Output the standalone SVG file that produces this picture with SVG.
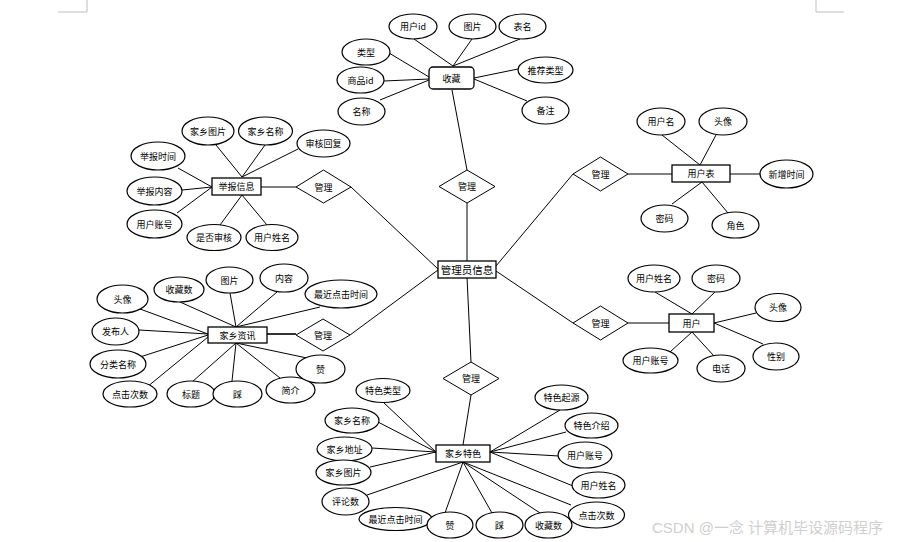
<svg xmlns="http://www.w3.org/2000/svg" width="922" height="542" viewBox="0 0 922 542">
<style>
.bg{fill:#fff}
.e{fill:#fff;stroke:#000;stroke-width:1.2}
.r{fill:#fff;stroke:#000;stroke-width:1.3}
.d{fill:#fff;stroke:#000;stroke-width:1}
.l{stroke:#000;stroke-width:1;fill:none}
.t{font-family:"Noto Sans CJK SC","Liberation Sans",sans-serif;font-size:9px;fill:#000;text-anchor:middle;dominant-baseline:central}
.tm{font-family:"Noto Sans CJK SC","Liberation Sans",sans-serif;font-size:10.5px;fill:#000;text-anchor:middle;dominant-baseline:central}
.c{stroke:#bdbdbd;stroke-width:1;fill:none}
.w{font-family:"Liberation Sans","Noto Sans CJK SC",sans-serif;font-size:15px;fill:#cfcfcf}
</style>
<rect class="bg" x="0" y="0" width="922" height="542"/>
<path class="c" d="M58 12H87V0M844 12H816V0"/>
<g id="connectors">
<line class="l" x1="452" y1="90" x2="467" y2="170"/>
<line class="l" x1="467" y1="203" x2="467" y2="261"/>
<line class="l" x1="467" y1="277" x2="471" y2="362"/>
<line class="l" x1="471" y1="395" x2="463" y2="445"/>
<line class="l" x1="351" y1="187" x2="438" y2="269"/>
<line class="l" x1="350" y1="335" x2="438" y2="270"/>
<line class="l" x1="573" y1="174" x2="496" y2="266"/>
<line class="l" x1="573" y1="323" x2="496" y2="271"/>
<line class="l" x1="414" y1="39" x2="453" y2="66"/>
<line class="l" x1="472" y1="39" x2="453" y2="66"/>
<line class="l" x1="520" y1="39" x2="453" y2="66"/>
<line class="l" x1="389" y1="53" x2="429" y2="77"/>
<line class="l" x1="384" y1="81" x2="429" y2="79"/>
<line class="l" x1="380" y1="100" x2="429" y2="80"/>
<line class="l" x1="474" y1="78" x2="518" y2="69"/>
<line class="l" x1="474" y1="79" x2="527" y2="101"/>
<line class="l" x1="216" y1="145" x2="242" y2="177"/>
<line class="l" x1="265" y1="145" x2="242" y2="177"/>
<line class="l" x1="298" y1="149" x2="242" y2="177"/>
<line class="l" x1="178" y1="168" x2="212" y2="187"/>
<line class="l" x1="182" y1="190" x2="212" y2="187"/>
<line class="l" x1="177" y1="213" x2="212" y2="187"/>
<line class="l" x1="242" y1="195" x2="220" y2="225"/>
<line class="l" x1="242" y1="195" x2="267" y2="225"/>
<line class="l" x1="261" y1="187" x2="296" y2="187"/>
<line class="l" x1="628" y1="174" x2="672" y2="174"/>
<line class="l" x1="730" y1="174" x2="760" y2="174"/>
<line class="l" x1="662" y1="135" x2="700" y2="165"/>
<line class="l" x1="716" y1="135" x2="700" y2="165"/>
<line class="l" x1="702" y1="182" x2="672" y2="204"/>
<line class="l" x1="702" y1="182" x2="728" y2="213"/>
<line class="l" x1="267" y1="334" x2="296" y2="334" style="stroke-width:1.6"/>
<line class="l" x1="236" y1="327" x2="180" y2="302"/>
<line class="l" x1="236" y1="327" x2="230" y2="293"/>
<line class="l" x1="236" y1="327" x2="277" y2="292"/>
<line class="l" x1="236" y1="327" x2="320" y2="307"/>
<line class="l" x1="140" y1="309" x2="208" y2="334"/>
<line class="l" x1="139" y1="330" x2="208" y2="334"/>
<line class="l" x1="140" y1="357" x2="208" y2="335"/>
<line class="l" x1="147" y1="387" x2="208" y2="337"/>
<line class="l" x1="236" y1="343" x2="192" y2="382"/>
<line class="l" x1="236" y1="343" x2="232" y2="381"/>
<line class="l" x1="236" y1="343" x2="280" y2="378"/>
<line class="l" x1="236" y1="343" x2="307" y2="358"/>
<line class="l" x1="628" y1="323" x2="669" y2="323"/>
<line class="l" x1="655" y1="292" x2="692" y2="314"/>
<line class="l" x1="715" y1="292" x2="692" y2="314"/>
<line class="l" x1="714" y1="323" x2="756" y2="313"/>
<line class="l" x1="714" y1="323" x2="763" y2="344"/>
<line class="l" x1="692" y1="332" x2="670" y2="352"/>
<line class="l" x1="692" y1="332" x2="714" y2="356"/>
<line class="l" x1="436" y1="452" x2="383" y2="402"/>
<line class="l" x1="436" y1="452" x2="378" y2="422"/>
<line class="l" x1="436" y1="452" x2="372" y2="448"/>
<line class="l" x1="436" y1="452" x2="370" y2="467"/>
<line class="l" x1="463" y1="462" x2="367" y2="495"/>
<line class="l" x1="463" y1="462" x2="445" y2="513"/>
<line class="l" x1="463" y1="462" x2="492" y2="513"/>
<line class="l" x1="463" y1="462" x2="540" y2="513"/>
<line class="l" x1="463" y1="462" x2="571" y2="505"/>
<line class="l" x1="490" y1="452" x2="560" y2="410"/>
<line class="l" x1="490" y1="452" x2="566" y2="432"/>
<line class="l" x1="490" y1="452" x2="559" y2="456"/>
<line class="l" x1="490" y1="452" x2="573" y2="486"/>
</g>
<g id="admin"><rect class="r" x="438" y="261" width="58" height="17"/><text class="tm" x="467" y="269.5">管理员信息</text></g>
<g id="rel-top"><polygon class="d" points="467,170 495,186.5 467,203 439,186.5"/><text class="t" x="467" y="186.5">管理</text></g>
<g id="rel-bottom"><polygon class="d" points="471,362 499,378.5 471,395 443,378.5"/><text class="t" x="471" y="378.5">管理</text></g>
<g id="rel-report"><polygon class="d" points="323.5,170 351,187 323.5,203 296,187"/><text class="t" x="323.5" y="187">管理</text></g>
<g id="rel-news"><polygon class="d" points="323,319 350,335 323,351 296,335"/><text class="t" x="323" y="335">管理</text></g>
<g id="rel-usertable"><polygon class="d" points="600.5,157 628,174 600.5,191 573,174"/><text class="t" x="600.5" y="174">管理</text></g>
<g id="rel-user"><polygon class="d" points="600.5,306 628,323 600.5,340 573,323"/><text class="t" x="600.5" y="323">管理</text></g>

<g id="favorite">
<rect class="r" x="429" y="67" width="45" height="22" rx="4"/><text class="t" x="451.5" y="78">收藏</text>
<ellipse class="e" cx="413" cy="26.5" rx="24" ry="12.5"/><text class="t" x="413" y="26.5">用户id</text>
<ellipse class="e" cx="472.5" cy="26.5" rx="23.5" ry="12.5"/><text class="t" x="472.5" y="26.5">图片</text>
<ellipse class="e" cx="522.5" cy="26.5" rx="23.5" ry="12.5"/><text class="t" x="522.5" y="26.5">表名</text>
<ellipse class="e" cx="366" cy="52" rx="24" ry="13"/><text class="t" x="366" y="52">类型</text>
<ellipse class="e" cx="360.5" cy="80" rx="23.5" ry="13"/><text class="t" x="360.5" y="80">商品id</text>
<ellipse class="e" cx="361.5" cy="111.5" rx="23.5" ry="13.5"/><text class="t" x="361.5" y="111.5">名称</text>
<ellipse class="e" cx="545.5" cy="70" rx="27.5" ry="13"/><text class="t" x="545.5" y="70">推荐类型</text>
<ellipse class="e" cx="545.5" cy="110.5" rx="23.5" ry="13.5"/><text class="t" x="545.5" y="110.5">备注</text>
</g>

<g id="report">
<rect class="r" x="212" y="178" width="49" height="17"/><text class="t" x="236.5" y="186.5">举报信息</text>
<ellipse class="e" cx="208" cy="131" rx="26" ry="14"/><text class="t" x="208" y="131">家乡图片</text>
<ellipse class="e" cx="265.5" cy="131" rx="27" ry="14"/><text class="t" x="265.5" y="131">家乡名称</text>
<ellipse class="e" cx="323.5" cy="143.5" rx="26.5" ry="13.5"/><text class="t" x="323.5" y="143.5">审核回复</text>
<ellipse class="e" cx="158" cy="156" rx="27" ry="14"/><text class="t" x="158" y="156">举报时间</text>
<ellipse class="e" cx="154.5" cy="191" rx="27.5" ry="14"/><text class="t" x="154.5" y="191">举报内容</text>
<ellipse class="e" cx="154.5" cy="224" rx="27.5" ry="14"/><text class="t" x="154.5" y="224">用户账号</text>
<ellipse class="e" cx="214" cy="237.5" rx="27" ry="13"/><text class="t" x="214" y="237.5">是否审核</text>
<ellipse class="e" cx="272" cy="237.5" rx="26" ry="13"/><text class="t" x="272" y="237.5">用户姓名</text>
</g>

<g id="usertable">
<rect class="r" x="672" y="165" width="58" height="17"/><text class="t" x="701" y="173.5">用户表</text>
<ellipse class="e" cx="661" cy="121.5" rx="24" ry="13.5"/><text class="t" x="661" y="121.5">用户名</text>
<ellipse class="e" cx="723" cy="121.5" rx="24" ry="13.5"/><text class="t" x="723" y="121.5">头像</text>
<ellipse class="e" cx="786.5" cy="174" rx="26.5" ry="14"/><text class="t" x="786.5" y="174">新增时间</text>
<ellipse class="e" cx="664.5" cy="218.5" rx="23.5" ry="13.5"/><text class="t" x="664.5" y="218.5">密码</text>
<ellipse class="e" cx="735.5" cy="225" rx="23.5" ry="13"/><text class="t" x="735.5" y="225">角色</text>
</g>

<g id="news">
<rect class="r" x="208" y="327" width="59" height="16"/><text class="t" x="237.5" y="335">家乡资讯</text>
<ellipse class="e" cx="179" cy="289.5" rx="25" ry="12.5"/><text class="t" x="179" y="289.5">收藏数</text>
<ellipse class="e" cx="229.5" cy="280" rx="23.5" ry="13"/><text class="t" x="229.5" y="280">图片</text>
<ellipse class="e" cx="284" cy="278" rx="24" ry="14"/><text class="t" x="284" y="278">内容</text>
<ellipse class="e" cx="341" cy="294" rx="36" ry="14"/><text class="t" x="341" y="294">最近点击时间</text>
<ellipse class="e" cx="122.5" cy="299" rx="25.5" ry="14"/><text class="t" x="122.5" y="299">头像</text>
<ellipse class="e" cx="115.5" cy="331.5" rx="23.5" ry="13.5"/><text class="t" x="115.5" y="331.5">发布人</text>
<ellipse class="e" cx="118" cy="364" rx="28" ry="14"/><text class="t" x="118" y="364">分类名称</text>
<ellipse class="e" cx="130" cy="394" rx="27" ry="13"/><text class="t" x="130" y="394">点击次数</text>
<ellipse class="e" cx="191" cy="394" rx="24" ry="13"/><text class="t" x="191" y="394">标题</text>
<ellipse class="e" cx="237.5" cy="394" rx="24.5" ry="13"/><text class="t" x="237.5" y="394">踩</text>
<ellipse class="e" cx="290.5" cy="390" rx="24.5" ry="13"/><text class="t" x="290.5" y="390">简介</text>
<ellipse class="e" cx="320.5" cy="369" rx="24.5" ry="14"/><text class="t" x="320.5" y="369">赞</text>
</g>

<g id="user">
<rect class="r" x="669" y="314" width="45" height="18"/><text class="t" x="691.5" y="323">用户</text>
<ellipse class="e" cx="654" cy="278.5" rx="26" ry="13.5"/><text class="t" x="654" y="278.5">用户姓名</text>
<ellipse class="e" cx="716" cy="278.5" rx="24" ry="13.5"/><text class="t" x="716" y="278.5">密码</text>
<ellipse class="e" cx="778" cy="307.5" rx="23" ry="14"/><text class="t" x="778" y="307.5">头像</text>
<ellipse class="e" cx="776" cy="356.5" rx="23" ry="13.5"/><text class="t" x="776" y="356.5">性别</text>
<ellipse class="e" cx="650.5" cy="360.5" rx="27.5" ry="12.5"/><text class="t" x="650.5" y="360.5">用户账号</text>
<ellipse class="e" cx="721" cy="368.5" rx="24" ry="13.5"/><text class="t" x="721" y="368.5">电话</text>
</g>

<g id="feature">
<rect class="r" x="436" y="445" width="54" height="17"/><text class="t" x="463" y="453.5">家乡特色</text>
<ellipse class="e" cx="383" cy="390.5" rx="27" ry="12"/><text class="t" x="383" y="390.5">特色类型</text>
<ellipse class="e" cx="352" cy="420.5" rx="27" ry="12.5"/><text class="t" x="352" y="420.5">家乡名称</text>
<ellipse class="e" cx="344.5" cy="449" rx="27.5" ry="12"/><text class="t" x="344.5" y="449">家乡地址</text>
<ellipse class="e" cx="343.5" cy="472.5" rx="27.5" ry="12.5"/><text class="t" x="343.5" y="472.5">家乡图片</text>
<ellipse class="e" cx="345.5" cy="501.5" rx="23.5" ry="13.5"/><text class="t" x="345.5" y="501.5">评论数</text>
<ellipse class="e" cx="395.5" cy="519" rx="36.5" ry="11.5"/><text class="t" x="395.5" y="519">最近点击时间</text>
<ellipse class="e" cx="450" cy="525" rx="23" ry="13"/><text class="t" x="450" y="525">赞</text>
<ellipse class="e" cx="499.5" cy="525" rx="23.5" ry="13"/><text class="t" x="499.5" y="525">踩</text>
<ellipse class="e" cx="548.5" cy="525" rx="23.5" ry="13"/><text class="t" x="548.5" y="525">收藏数</text>
<ellipse class="e" cx="596.5" cy="515" rx="28" ry="13"/><text class="t" x="596.5" y="515">点击次数</text>
<ellipse class="e" cx="598.5" cy="485" rx="26.5" ry="13"/><text class="t" x="598.5" y="485">用户姓名</text>
<ellipse class="e" cx="585" cy="455" rx="27" ry="13"/><text class="t" x="585" y="455">用户账号</text>
<ellipse class="e" cx="591.5" cy="425.5" rx="26.5" ry="12.5"/><text class="t" x="591.5" y="425.5">特色介绍</text>
<ellipse class="e" cx="561.5" cy="397.5" rx="26.5" ry="12.5"/><text class="t" x="561.5" y="397.5">特色起源</text>
</g>
<text class="w" x="652" y="533">CSDN @一念 计算机毕设源码程序</text>
</svg>
